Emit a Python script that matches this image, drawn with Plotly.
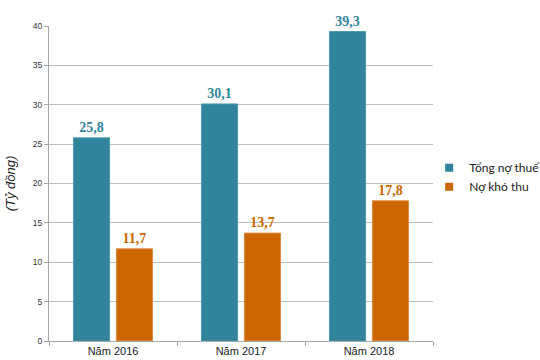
import plotly.graph_objects as go

categories = ["Năm 2016", "Năm 2017", "Năm 2018"]
tong_no_thue = [25.8, 30.1, 39.3]
no_kho_thu = [11.7, 13.7, 17.8]
series_names = ["Tổng nợ thuế", "Nợ khó thu"]
y_ticks = [0, 5, 10, 15, 20, 25, 30, 35, 40]

TEAL = "#31849B"
ORANGE = "#CC6600"

def lab(vals):
    return [f"{v:.1f}".replace(".", ",") for v in vals]

fig = go.Figure()
for name, vals, col, lc in [(series_names[0], tong_no_thue, TEAL, "#4a9ab0"),
                            (series_names[1], no_kho_thu, ORANGE, "#e08a3c")]:
    fig.add_trace(go.Bar(
        x=categories, y=vals, name=name, showlegend=False,
        marker=dict(color=col, line=dict(color=lc, width=1)),
        text=lab(vals), textposition="outside", cliponaxis=False,
        textfont=dict(family="Liberation Serif, Times New Roman, serif", size=14, color=col),
        texttemplate="<b>%{text}</b>",
    ))
# legend entries with small square swatches
for name, col in [(series_names[0], TEAL), (series_names[1], ORANGE)]:
    fig.add_trace(go.Scatter(
        x=[None], y=[None], name=name, mode="markers",
        marker=dict(symbol="square", size=8, color=col, line=dict(color="white", width=0)),
    ))

fig.update_layout(
    width=540, height=360,
    margin=dict(l=49, r=107, t=26, b=19, autoexpand=False),
    paper_bgcolor="white", plot_bgcolor="white",
    barmode="group", bargap=0.33, bargroupgap=0.16,
    font=dict(family="Liberation Sans, Arial, sans-serif", size=9, color="#333333"),
    legend=dict(x=0.99, xanchor="left", y=0.52, yanchor="middle",
                font=dict(family="Lato, Carlito, sans-serif", size=12, color="#222222"),
                itemwidth=30, tracegroupgap=0, bgcolor="rgba(0,0,0,0)"),
    xaxis=dict(showline=True, linecolor="#a6a6a6", linewidth=1, automargin=False,
               ticks="outside", tickson="boundaries", ticklen=4, tickcolor="#a6a6a6",
               tickfont=dict(size=11, color="#222222"), showgrid=False),
    yaxis=dict(range=[0, 40], tickvals=y_ticks, showline=True, linecolor="#a6a6a6", linewidth=1,
               automargin=False,
               ticks="outside", ticklen=4, tickcolor="#a6a6a6",
               gridcolor="#c0c0c0", gridwidth=1, zeroline=False,
               tickfont=dict(size=8.5, color="#333333"),
               title=dict(text="<i>(Tỷ đồng)</i>", font=dict(family="Liberation Sans, Arial, sans-serif", size=13, color="#222222"), standoff=14)),
)

fig.write_html("out.html", config={"displayModeBar": False},
               post_script="document.body.style.margin='0px';document.body.style.overflow='hidden';")
